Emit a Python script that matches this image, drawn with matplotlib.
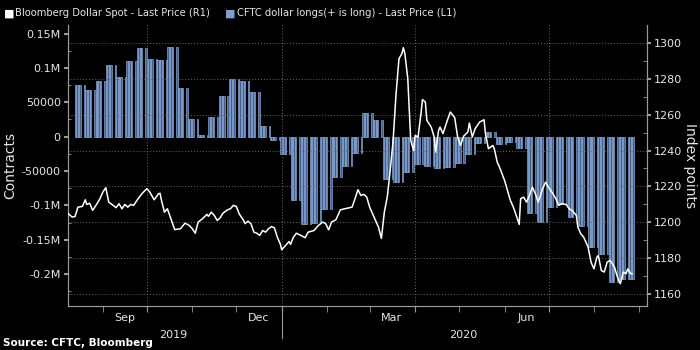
"""Bloomberg Dollar Spot vs CFTC dollar positioning (dark Bloomberg-style chart)."""

import matplotlib
matplotlib.use("Agg")
import matplotlib.dates as mdates
import matplotlib.pyplot as plt
import matplotlib.ticker as mticker
import matplotlib.transforms as mtransforms
import numpy as np
import pandas as pd

# CFTC dollar longs, weekly (Tuesday) values, contracts
cftc_start = "2019-08-13"
cftc_end = "2020-08-27"
cftc_weekly = [
    75100, 67900, 81000, 104200, 86800, 109600, 128500, 113000, 111500, 130400,
    70300, 25700, 2500, 29100, 59200, 83900, 81000, 65400, 15500, -4800,
    -24600, -92000, -127300, -125000, -105100, -58100, -42200, -23300, 34000, 24300,
    -61900, -65400, -50900, -40100, -42600, -45500, -44500, -38700, -25600, -8700,
    6400, -11000, -7700, -16900, -111300, -123500, -102600, -97800, -117200, -129800,
    -159900, -170500, -211200, -207300,
]

# Bloomberg Dollar Spot index, index points
bbdxy_dates = [
    "2019-08-08", "2019-08-11", "2019-08-13", "2019-08-15", "2019-08-18", "2019-08-20",
    "2019-08-21", "2019-08-23", "2019-08-25", "2019-08-28", "2019-08-30", "2019-09-01",
    "2019-09-03", "2019-09-05", "2019-09-08", "2019-09-10", "2019-09-12", "2019-09-14",
    "2019-09-16", "2019-09-18", "2019-09-20", "2019-09-22", "2019-09-25", "2019-09-28",
    "2019-10-01", "2019-10-03", "2019-10-06", "2019-10-09", "2019-10-10", "2019-10-11",
    "2019-10-13", "2019-10-15", "2019-10-17", "2019-10-20", "2019-10-24", "2019-10-27",
    "2019-10-30", "2019-11-01", "2019-11-03", "2019-11-05", "2019-11-08", "2019-11-11",
    "2019-11-12", "2019-11-14", "2019-11-16", "2019-11-18", "2019-11-20", "2019-11-22",
    "2019-11-25", "2019-11-27", "2019-11-29", "2019-12-01", "2019-12-03", "2019-12-06",
    "2019-12-07", "2019-12-09", "2019-12-11", "2019-12-13", "2019-12-15", "2019-12-17",
    "2019-12-19", "2019-12-21", "2019-12-23", "2019-12-25", "2019-12-27", "2019-12-29",
    "2019-12-31", "2020-01-01", "2020-01-03", "2020-01-06", "2020-01-07", "2020-01-09",
    "2020-01-11", "2020-01-14", "2020-01-17", "2020-01-19", "2020-01-23", "2020-01-26",
    "2020-01-29", "2020-01-31", "2020-02-02", "2020-02-04", "2020-02-07", "2020-02-10",
    "2020-02-13", "2020-02-18", "2020-02-20", "2020-02-22", "2020-02-24", "2020-02-26",
    "2020-02-28", "2020-03-01", "2020-03-05", "2020-03-07", "2020-03-09", "2020-03-11",
    "2020-03-13", "2020-03-15", "2020-03-17", "2020-03-19", "2020-03-21", "2020-03-23",
    "2020-03-24", "2020-03-25", "2020-03-27", "2020-03-29", "2020-03-31", "2020-04-01",
    "2020-04-03", "2020-04-05", "2020-04-06", "2020-04-08", "2020-04-09", "2020-04-12",
    "2020-04-14", "2020-04-15", "2020-04-17", "2020-04-18", "2020-04-20", "2020-04-23",
    "2020-04-25", "2020-04-28", "2020-04-30", "2020-05-02", "2020-05-04", "2020-05-07",
    "2020-05-08", "2020-05-10", "2020-05-12", "2020-05-15", "2020-05-18", "2020-05-19",
    "2020-05-21", "2020-05-24", "2020-05-25", "2020-05-27", "2020-05-29", "2020-06-01",
    "2020-06-03", "2020-06-05", "2020-06-07", "2020-06-09", "2020-06-11", "2020-06-12",
    "2020-06-14", "2020-06-16", "2020-06-18", "2020-06-20", "2020-06-22", "2020-06-24",
    "2020-06-27", "2020-06-29", "2020-07-01", "2020-07-04", "2020-07-06", "2020-07-08",
    "2020-07-10", "2020-07-13", "2020-07-15", "2020-07-17", "2020-07-20", "2020-07-21",
    "2020-07-23", "2020-07-25", "2020-07-28", "2020-07-30", "2020-08-01", "2020-08-03",
    "2020-08-04", "2020-08-06", "2020-08-08", "2020-08-10", "2020-08-12", "2020-08-15",
    "2020-08-17", "2020-08-19", "2020-08-21", "2020-08-23", "2020-08-24", "2020-08-26",
    "2020-08-27",
]
bbdxy_values = [
    1205.2, 1203.0, 1203.3, 1208.5, 1208.9, 1212.6,
    1210.0, 1210.7, 1206.7, 1210.4, 1213.2, 1216.9,
    1219.3, 1211.3, 1209.5, 1208.2, 1210.4, 1207.6,
    1210.0, 1208.5, 1210.0, 1209.5, 1213.2, 1216.3,
    1218.8, 1216.9, 1212.6, 1216.0, 1216.2, 1212.2,
    1205.7, 1207.6, 1203.0, 1196.0, 1196.5, 1199.6,
    1198.3, 1196.5, 1194.0, 1200.2, 1202.1, 1204.5,
    1203.4, 1205.7, 1203.9, 1201.1, 1202.6, 1205.2,
    1207.0, 1207.6, 1209.5, 1208.9, 1204.8, 1201.1,
    1199.3, 1200.7, 1199.3, 1194.6, 1194.0, 1192.8,
    1195.5, 1194.6, 1196.5, 1197.7, 1197.0, 1191.8,
    1188.1, 1184.8, 1186.6, 1189.4, 1187.8, 1191.8,
    1194.0, 1192.8, 1191.5, 1194.6, 1195.5, 1198.3,
    1200.2, 1199.3, 1195.9, 1200.2, 1201.5, 1207.0,
    1207.6, 1208.5, 1213.2, 1218.2, 1215.0, 1215.6,
    1214.1, 1208.5, 1201.1, 1197.4, 1191.1, 1205.7,
    1214.1, 1228.9, 1245.6, 1271.6, 1291.1, 1293.9,
    1297.2, 1293.9, 1280.0, 1245.6, 1240.0, 1248.4,
    1247.5, 1260.5, 1268.3, 1266.9, 1256.8, 1253.0,
    1247.5, 1239.1, 1251.2, 1253.0, 1249.4, 1256.8,
    1261.4, 1258.3, 1247.5, 1242.8, 1247.9, 1250.3,
    1255.3, 1247.5, 1252.2, 1255.8, 1257.1, 1249.4,
    1241.0, 1242.8, 1241.0, 1233.6, 1229.9, 1223.4,
    1217.8, 1212.2, 1208.5, 1203.9, 1198.9, 1213.2,
    1214.1, 1211.3, 1215.0, 1219.6, 1216.0, 1211.3,
    1218.8, 1222.4, 1219.6, 1216.0, 1213.2, 1209.5,
    1210.4, 1210.0, 1207.6, 1206.7, 1203.9, 1197.4,
    1193.7, 1191.8, 1186.3, 1177.9, 1174.2, 1180.7,
    1181.6, 1173.3, 1172.4, 1177.9, 1178.9, 1175.2,
    1169.6, 1165.9, 1172.4, 1171.5, 1174.2, 1171.5,
    1171.5,
]

left_ticks = [150000, 100000, 50000, 0, -50000, -100000, -150000, -200000]
left_labels = ["0.15M", "0.1M", "50000", "0", "-50000", "-0.1M", "-0.15M", "-0.2M"]
right_ticks = [1160, 1180, 1200, 1220, 1240, 1260, 1280, 1300]
month_labels = {"2019-09-16": "Sep", "2019-12-16": "Dec", "2020-03-16": "Mar", "2020-06-16": "Jun"}
year_labels = {"2019-10-19": "2019", "2020-05-04": "2020"}
year_break = "2020-01-01"
x_range = ("2019-08-08", "2020-09-06")

BG = "black"
FG = "#e6e6e6"
GRID = "#6a6a6a"
SPINE = "#9a9a9a"
BAR_FACE = "#44608c"
BAR_EDGE = "#93b1e0"

plt.rcParams["font.family"] = ["DejaVu Sans"]

# weekly CFTC numbers drawn as one bar per business day (Bloomberg style)
weekly = pd.Series(cftc_weekly, index=pd.date_range(cftc_start, periods=len(cftc_weekly), freq="7D"))
days = pd.date_range(cftc_start, cftc_end, freq="B")
daily = weekly.reindex(weekly.index.union(days)).ffill().reindex(days)

fig = plt.figure(figsize=(7, 3.5), dpi=100, facecolor=BG)
ax = fig.add_axes([0.0967, 0.1266, 0.8272, 0.802], facecolor=BG)
ax2 = ax.twinx()

ax.bar(days, daily.values, width=1.0, color=BAR_FACE, edgecolor=BAR_EDGE,
       linewidth=0.45, align="edge", zorder=2)
ax2.plot(pd.to_datetime(bbdxy_dates), bbdxy_values, color="white", linewidth=1.1, zorder=3)

ax.set_xlim(pd.Timestamp(x_range[0]), pd.Timestamp(x_range[1]))
ax.set_ylim(-245700, 162400)
ax2.set_ylim(1153.7, 1309.8)

# left axis
ax.set_yticks(left_ticks)
ax.set_yticklabels(left_labels)
ax.yaxis.set_minor_locator(mticker.MultipleLocator(25000))
ax.tick_params(axis="y", which="major", colors=SPINE, labelcolor=FG, labelsize=8,
               length=3, width=1.5, direction="out", pad=2)
ax.tick_params(axis="y", which="minor", colors=SPINE, length=2, direction="in")
ax.set_ylabel("Contracts", color=FG, fontsize=10, labelpad=3)

# right axis with the horizontal grid
ax2.set_yticks(right_ticks)
ax2.yaxis.set_minor_locator(mticker.MultipleLocator(10))
ax2.tick_params(axis="y", which="major", colors=SPINE, labelcolor=FG, labelsize=8,
                length=3, width=1.5, direction="out", pad=2)
ax2.tick_params(axis="y", which="minor", colors=SPINE, length=3, direction="in")
ax2.set_ylabel("Index points", color=FG, fontsize=10, rotation=270, labelpad=11)
ax2.grid(axis="y", color=GRID, linestyle=(0, (1, 2)), linewidth=0.7)

# x axis: month ticks, quarter grid, centred month / year labels
ax.xaxis.set_major_locator(mdates.MonthLocator(bymonth=[1, 4, 7, 10]))
ax.xaxis.set_minor_locator(mdates.MonthLocator())
ax.xaxis.set_major_formatter(mticker.NullFormatter())
ax.tick_params(axis="x", which="both", colors=SPINE, length=4, direction="out")
ax.grid(axis="x", which="major", color=GRID, linestyle=(0, (1, 2)), linewidth=0.7)
ax.set_axisbelow(False)

blend = mtransforms.blended_transform_factory(ax.transData, ax.transAxes)
for d, lab in month_labels.items():
    ax.text(pd.Timestamp(d), -0.025, lab, transform=blend, ha="center", va="top",
            color=FG, fontsize=8)
for d, lab in year_labels.items():
    ax.text(pd.Timestamp(d), -0.088, lab, transform=blend, ha="center", va="top",
            color=FG, fontsize=8)
yb = mdates.date2num(pd.Timestamp(year_break))
ax.plot([yb, yb], [0, -0.115], transform=blend, color=SPINE, linewidth=0.8, clip_on=False)

for a in (ax, ax2):
    a.spines["top"].set_visible(False)
    for side in ("left", "right", "bottom"):
        a.spines[side].set_color(SPINE)

# legend line at the top
fig.text(0.006, 0.962, "\u25a0", color="white", fontsize=8, va="center")
fig.text(0.022, 0.962, "Bloomberg Dollar Spot - Last Price (R1)", color=FG, fontsize=7.2, va="center")
fig.text(0.322, 0.962, "\u25a0", color="#7f9ccc", fontsize=8, va="center")
fig.text(0.338, 0.962, "CFTC dollar longs(+ is long) - Last Price (L1)", color=FG, fontsize=7.2, va="center")

fig.text(0.004, 0.02, "Source: CFTC, Bloomberg", color="white", fontsize=7.5,
         fontweight="bold", va="center")

fig.savefig("out.png", dpi=100, facecolor=BG)
